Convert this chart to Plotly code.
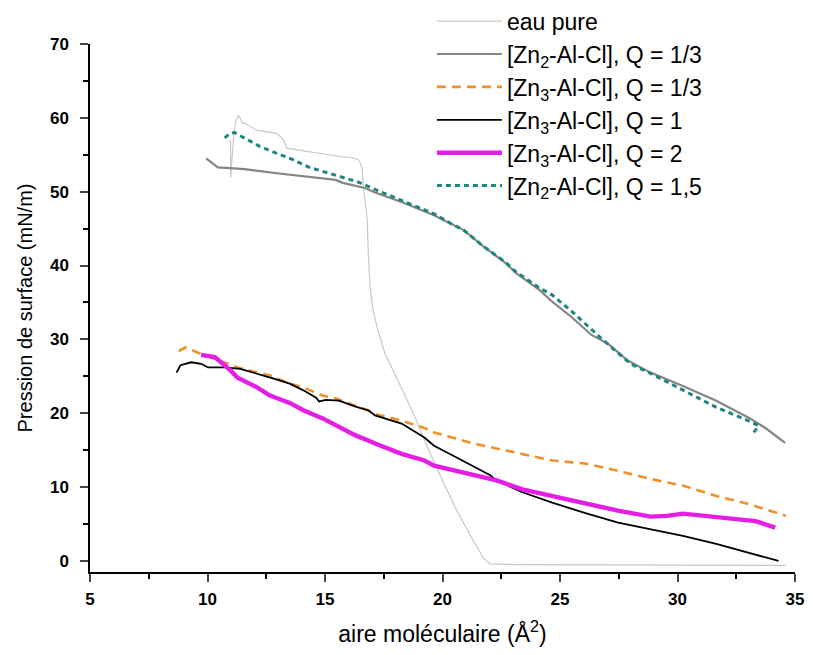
import plotly.graph_objects as go

# ---- data ----
eau_x = [10.98, 10.99, 11.10, 11.20, 11.32, 11.50, 11.57, 12.10, 12.95, 13.24, 13.37, 14.33, 15.04,
         15.75, 16.00, 16.30, 16.42, 16.50, 16.59, 16.63, 16.72, 16.80, 16.84, 16.92, 17.05, 17.22,
         17.55, 17.97, 18.51, 18.89, 19.23, 19.94, 20.61, 21.32, 21.74, 22.03, 23.40, 34.60]
eau_y = [57.0, 52.0, 57.0, 59.5, 60.4, 59.2, 59.3, 58.3, 57.9, 57.0, 55.9, 55.4, 55.0,
         54.7, 54.7, 54.5, 54.3, 53.9, 52.9, 50.6, 48.4, 46.1, 41.7, 37.0, 33.9, 31.6,
         28.1, 25.4, 21.7, 19.0, 16.3, 11.3, 6.8, 2.7, 0.4, -0.4, -0.5, -0.6]

zn2_q13_x = [9.94, 10.44, 10.98, 11.57, 12.95, 14.33, 15.46, 15.75, 16.70, 17.13, 18.26, 19.64,
             20.90, 21.74, 22.70, 23.12, 24.12, 24.67, 25.50, 26.34, 27.05, 27.90, 28.85, 30.23,
             31.65, 33.03, 33.74, 34.58]
zn2_q13_y = [54.5, 53.3, 53.2, 53.05, 52.5, 52.0, 51.6, 51.2, 50.5, 49.9, 48.6, 46.8,
             44.8, 42.6, 40.3, 39.0, 36.7, 35.1, 33.0, 30.6, 29.4, 27.1, 25.5, 23.7,
             21.7, 19.4, 18.0, 16.0]

zn3_q13_x = [8.77, 9.06, 9.60, 10.73, 11.28, 12.11, 12.66, 13.50, 14.08, 14.90, 15.46, 16.30,
             16.84, 17.13, 18.26, 19.23, 19.64, 21.32, 23.40, 24.67, 26.05, 27.47, 28.85, 30.23,
             31.65, 33.03, 34.62]
zn3_q13_y = [28.4, 28.9, 28.2, 26.9, 26.2, 25.5, 25.1, 24.0, 23.5, 22.4, 22.0, 21.0,
             20.4, 19.9, 19.0, 18.0, 17.4, 15.9, 14.5, 13.6, 13.2, 12.2, 11.1, 10.2,
             8.8, 7.7, 6.1]

zn3_q1_x = [8.68, 8.85, 9.31, 9.73, 10.02, 10.73, 11.40, 12.11, 12.82, 13.50, 14.08, 14.62,
            14.75, 15.04, 15.59, 16.30, 16.84, 17.13, 18.26, 19.23, 19.64, 20.60, 22.03, 22.30,
            23.40, 24.67, 26.05, 27.47, 28.85, 30.23, 31.65, 33.03, 34.30]
zn3_q1_y = [25.5, 26.5, 26.9, 26.7, 26.2, 26.2, 26.0, 25.4, 24.7, 24.0, 23.1, 22.1,
            21.6, 21.8, 21.7, 20.9, 20.4, 19.7, 18.6, 16.7, 15.6, 14.0, 11.6, 10.9,
            9.3, 7.9, 6.5, 5.2, 4.3, 3.4, 2.3, 1.1, 0.0]

zn3_q2_x = [9.73, 10.31, 10.98, 11.28, 12.11, 12.66, 13.50, 14.08, 14.90, 15.46, 16.30, 16.84,
            17.13, 18.26, 19.23, 19.64, 21.32, 22.30, 23.40, 24.67, 26.05, 27.47, 28.85, 29.56,
            30.23, 30.94, 32.32, 33.32, 34.16]
zn3_q2_y = [27.9, 27.6, 25.8, 24.8, 23.5, 22.4, 21.4, 20.4, 19.3, 18.4, 17.0, 16.3,
            15.9, 14.5, 13.6, 12.9, 11.6, 10.9, 9.7, 8.8, 7.7, 6.8, 6.0, 6.1,
            6.4, 6.2, 5.8, 5.4, 4.5]

zn2_q15_x = [10.73, 10.95, 11.15, 11.57, 12.24, 12.95, 13.66, 14.33, 15.04, 15.75, 16.42, 17.13,
             18.26, 19.64, 20.40, 20.90, 21.74, 22.70, 23.10, 24.12, 24.67, 25.50, 26.80, 27.47,
             28.00, 28.85, 30.23, 31.65, 33.00, 33.45, 33.24]
zn2_q15_y = [57.3, 57.9, 58.0, 57.3, 56.1, 55.2, 54.3, 53.3, 52.6, 52.0, 51.3, 50.3,
             48.8, 47.0, 45.6, 44.8, 42.6, 40.4, 39.2, 37.0, 36.0, 33.8, 30.0, 28.2,
             26.7, 25.4, 23.1, 20.8, 19.0, 18.3, 17.4]

names = ["eau pure",
         "[Zn<sub>2</sub>-Al-Cl], Q = 1/3",
         "[Zn<sub>3</sub>-Al-Cl], Q = 1/3",
         "[Zn<sub>3</sub>-Al-Cl], Q = 1",
         "[Zn<sub>3</sub>-Al-Cl], Q = 2",
         "[Zn<sub>2</sub>-Al-Cl], Q = 1,5"]

x_ticks = [5, 10, 15, 20, 25, 30, 35]
y_ticks = [0, 10, 20, 30, 40, 50, 60, 70]
y_minor = [5, 15, 25, 35, 45, 55, 65]

series = [
    (eau_x, eau_y, "#c8c8c8", 1.2, "solid"),
    (zn2_q13_x, zn2_q13_y, "#858585", 2.2, "solid"),
    (zn3_q13_x, zn3_q13_y, "#f0902a", 2.6, "9px,6px"),
    (zn3_q1_x, zn3_q1_y, "#000000", 1.8, "solid"),
    (zn3_q2_x, zn3_q2_y, "#e41ee4", 4.4, "solid"),
    (zn2_q15_x, zn2_q15_y, "#1e8580", 3.0, "5px,4px"),
]

fig = go.Figure()
for (xs, ys, col, w, dash), nm in zip(series, names):
    fig.add_trace(go.Scatter(x=xs, y=ys, mode="lines", name=nm,
                             line=dict(color=col, width=w, dash=dash)))

# the page body adds an 8px margin; the figure is sized to fit inside it (no scrollbars)
fnt = "Liberation Sans, Arial, sans-serif"
fig.update_layout(
    width=797, height=639,
    margin=dict(l=82, r=10, t=36, b=75, autoexpand=False),
    paper_bgcolor="white", plot_bgcolor="white",
    font=dict(family=fnt, color="black"),
    showlegend=True,
    legend=dict(x=0.485, y=1.084, xanchor="left", yanchor="top",
                bgcolor="rgba(0,0,0,0)", font=dict(size=23, family=fnt),
                tracegroupgap=0, itemwidth=65),
    xaxis=dict(range=[5, 35], tickvals=x_ticks, ticks="outside", ticklen=8, tickwidth=1.5,
               showline=True, linecolor="black", linewidth=1.5, showgrid=False, zeroline=False,
               automargin=False, ticklabeloverflow="allow", ticklabelstandoff=3,
               tickfont=dict(size=17, weight="bold"),
               minor=dict(dtick=2.5, ticks="outside", ticklen=5, tickcolor="black", showgrid=False),
               title=dict(text="aire moléculaire (Å<sup>2</sup>)", font=dict(size=23), standoff=26)),
    yaxis=dict(range=[-1.5, 70], tickvals=y_ticks, ticks="outside", ticklen=8, tickwidth=1.5,
               showline=True, linecolor="black", linewidth=1.5, showgrid=False, zeroline=False,
               automargin=False, ticklabeloverflow="allow", ticklabelstandoff=8,
               tickfont=dict(size=17, weight="bold"),
               minor=dict(tickvals=y_minor, ticks="outside", ticklen=5,
                          tickcolor="black", showgrid=False),
               title=dict(text="Pression de surface (mN/m)", font=dict(size=20), standoff=12)),
)

fig.write_html("out.html")
